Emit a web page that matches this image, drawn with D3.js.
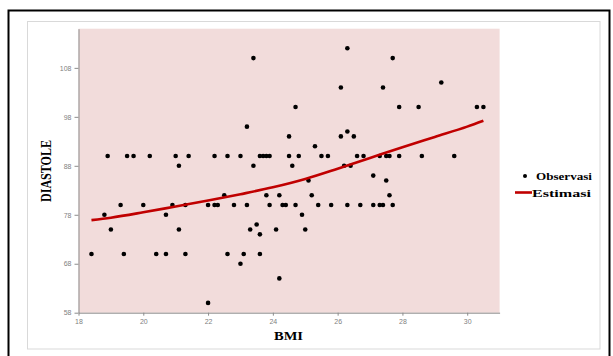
<!DOCTYPE html>
<html>
<head>
<meta charset="utf-8">
<script src="https://cdn.jsdelivr.net/npm/d3@7"></script>
<style>
  html, body { margin: 0; padding: 0; background: #fff; }
  svg { display: block; }
</style>
</head>
<body>
<div id="chart"></div>
<script>
// observed points (BMI, DIASTOLE)
const bmi = [
  18.4, 18.8, 18.9, 19.0, 19.3, 19.4, 19.5, 19.7, 20.0, 20.2,
  20.4, 20.7, 20.7, 20.9, 21.0, 21.1, 21.1, 21.3, 21.3, 21.4,
  22.0, 22.0, 22.2, 22.2, 22.3, 22.5, 22.6, 22.6, 22.8, 23.0,
  23.0, 23.1, 23.2, 23.2, 23.3, 23.4, 23.4, 23.5, 23.6, 23.6,
  23.6, 23.7, 23.8, 23.8, 23.9, 23.9, 24.1, 24.2, 24.2, 24.3,
  24.4, 24.5, 24.5, 24.6, 24.7, 24.7, 24.8, 24.9, 25.0, 25.1,
  25.2, 25.3, 25.4, 25.5, 25.7, 25.8, 26.1, 26.1, 26.2, 26.3,
  26.3, 26.3, 26.4, 26.5, 26.6, 26.7, 26.8, 27.1, 27.1, 27.3,
  27.3, 27.4, 27.4, 27.5, 27.5, 27.6, 27.6, 27.7, 27.7, 27.9,
  27.9, 28.5, 28.6, 29.2, 29.6, 30.3, 30.5
];
const diastole = [
  70, 78, 90, 75, 80, 70, 90, 90, 80, 90,
  70, 78, 70, 80, 90, 88, 75, 80, 70, 90,
  80, 60, 90, 80, 80, 82, 90, 70, 80, 90,
  68, 70, 96, 80, 75, 110, 88, 76, 90, 74,
  70, 90, 90, 82, 90, 80, 75, 82, 65, 80,
  80, 94, 90, 88, 100, 80, 90, 78, 75, 85,
  82, 92, 80, 90, 90, 80, 104, 94, 88, 112,
  95, 80, 88, 94, 90, 80, 90, 86, 80, 90,
  80, 104, 80, 85, 90, 90, 82, 110, 80, 100,
  90, 100, 90, 105, 90, 100, 100
];

// fitted curve
const estBmi = [18.4, 19, 20, 21, 22, 23, 24, 25, 26, 27, 28, 29, 30, 30.5];
const estDiastole = [76.9, 77.4, 78.5, 79.7, 80.9, 82.2, 83.6, 85.3, 87.4, 89.6, 91.8, 93.9, 96.0, 97.2];

const xTicks = [18, 20, 22, 24, 26, 28, 30];
const yTicks = [58, 68, 78, 88, 98, 108];

////////////////////////////////////////////////////////////////////////////////////

const width = 613;
const height = 356;

const svg = d3.select("#chart")
  .append("svg")
  .attr("width", width)
  .attr("height", height);

// outer frame + inner chart-area border
svg.append("rect")
  .attr("x", 8.5).attr("y", 10.5)
  .attr("width", 601).attr("height", 360)
  .attr("fill", "none")
  .attr("stroke", "#000")
  .attr("stroke-width", 2);

svg.append("rect")
  .attr("x", 27.5).attr("y", 21.5)
  .attr("width", 572.5).attr("height", 327.5)
  .attr("fill", "none")
  .attr("stroke", "#d9d9d9")
  .attr("stroke-width", 1);

////////////////////////////////////////////////////////////////////////////////////

const x = d3.scaleLinear().domain([18, 31]).range([78.5, 499.6]);
const y = d3.scaleLinear().domain([58, 116]).range([312.7, 28.7]);

svg.append("rect")
  .attr("x", x(18)).attr("y", y(116))
  .attr("width", x(31) - x(18))
  .attr("height", y(58) - y(116))
  .attr("fill", "#f2dcdb");

const axisColor = "#8c8c8c";

function styleAxis(g) {
  g.select(".domain").attr("stroke", axisColor);
  g.selectAll(".tick line").attr("stroke", axisColor);
  g.selectAll(".tick text")
    .attr("fill", "#7f7f7f")
    .style("font-family", "'Liberation Sans', Arial, sans-serif")
    .style("font-size", "7px");
}

svg.append("g")
  .attr("transform", `translate(0,${y(58)})`)
  .call(d3.axisBottom(x).tickValues(xTicks).tickSize(3).tickPadding(3).tickSizeOuter(0))
  .call(styleAxis);

svg.append("g")
  .attr("transform", `translate(${x(18)},0)`)
  .call(d3.axisLeft(y).tickValues(yTicks).tickSize(4).tickPadding(3).tickSizeOuter(0))
  .call(styleAxis);

////////////////////////////////////////////////////////////////////////////////////

const points = bmi.map((b, i) => ({ bmi: b, dia: diastole[i] }));
const est = estBmi.map((b, i) => ({ bmi: b, dia: estDiastole[i] }));

svg.append("g")
  .selectAll("circle")
  .data(points)
  .enter()
  .append("circle")
  .attr("cx", d => x(d.bmi))
  .attr("cy", d => y(d.dia))
  .attr("r", 2.3)
  .attr("fill", "#000");

const line = d3.line()
  .x(d => x(d.bmi))
  .y(d => y(d.dia))
  .curve(d3.curveMonotoneX);

svg.append("path")
  .datum(est)
  .attr("d", line)
  .attr("fill", "none")
  .attr("stroke", "#c00000")
  .attr("stroke-width", 2.6);

////////////////////////////////////////////////////////////////////////////////////

const serif = "'Liberation Serif', 'Times New Roman', serif";

svg.append("text")
  .attr("x", 288.5).attr("y", 340)
  .attr("text-anchor", "middle")
  .attr("textLength", 29)
  .attr("lengthAdjust", "spacingAndGlyphs")
  .style("font-family", serif)
  .style("font-weight", "bold")
  .style("font-size", "13px")
  .text("BMI");

svg.append("text")
  .attr("transform", "translate(51,171) rotate(-90)")
  .attr("text-anchor", "middle")
  .attr("textLength", 62)
  .attr("lengthAdjust", "spacingAndGlyphs")
  .style("font-family", serif)
  .style("font-weight", "bold")
  .style("font-size", "14px")
  .text("DIASTOLE");

// legend
const legend = svg.append("g");

legend.append("circle")
  .attr("cx", 525).attr("cy", 176)
  .attr("r", 2)
  .attr("fill", "#000");

legend.append("text")
  .attr("x", 536).attr("y", 180)
  .attr("textLength", 56)
  .attr("lengthAdjust", "spacingAndGlyphs")
  .style("font-family", serif)
  .style("font-weight", "bold")
  .style("font-size", "11px")
  .text("Observasi");

legend.append("line")
  .attr("x1", 515).attr("x2", 532)
  .attr("y1", 192.5).attr("y2", 192.5)
  .attr("stroke", "#c00000")
  .attr("stroke-width", 2.6);

legend.append("text")
  .attr("x", 532).attr("y", 196.5)
  .attr("textLength", 59)
  .attr("lengthAdjust", "spacingAndGlyphs")
  .style("font-family", serif)
  .style("font-weight", "bold")
  .style("font-size", "11px")
  .text("Estimasi");
</script>
</body>
</html>
